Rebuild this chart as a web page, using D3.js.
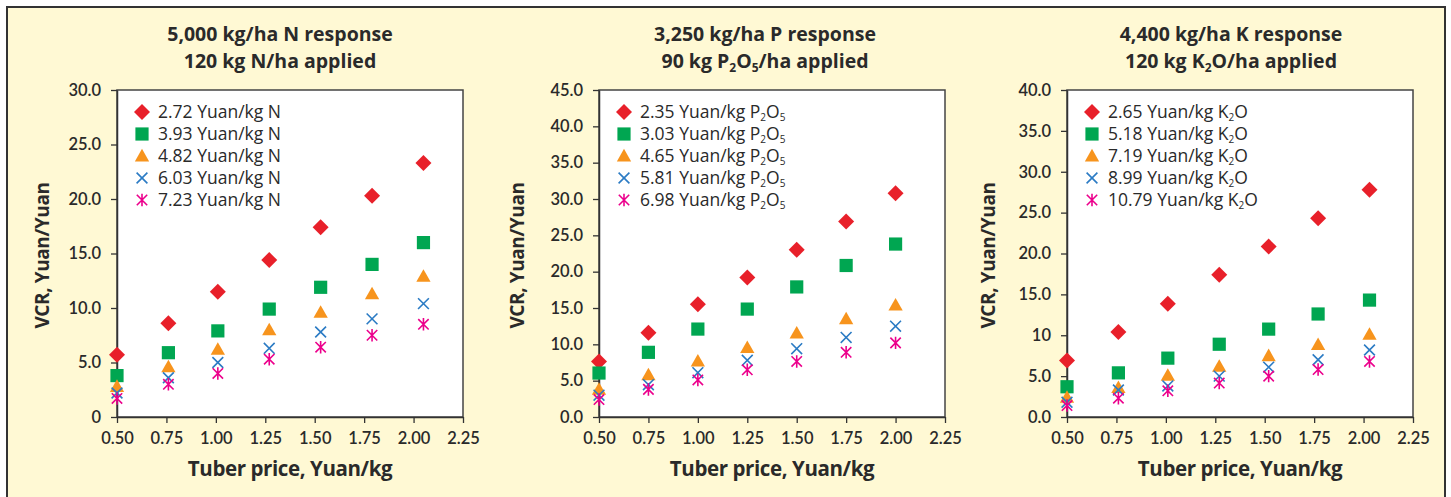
<!DOCTYPE html>
<html>
<head>
<meta charset="utf-8">
<script src="https://cdn.jsdelivr.net/npm/d3@7"></script>
<style>
  html, body { margin: 0; padding: 0; background: #fff; }
  svg { display: block; font-family: "Open Sans", Lato, sans-serif; }
  .tick text { fill: #2a2a2a; }
</style>
</head>
<body>
<div id="chart"></div>
<script>
// tuber prices, Yuan/kg (x positions read per panel)
const priceN = [0.50, 0.76, 1.01, 1.27, 1.53, 1.79, 2.05];
const priceP = [0.50, 0.75, 1.00, 1.25, 1.50, 1.75, 2.00];
const priceK = [0.50, 0.76, 1.01, 1.27, 1.52, 1.77, 2.03];

// fertilizer price series labels ("_2" = subscript 2)
const labelsN = ['2.72 Yuan/kg N', '3.93 Yuan/kg N', '4.82 Yuan/kg N', '6.03 Yuan/kg N', '7.23 Yuan/kg N'];
const labelsP = ['2.35 Yuan/kg P_2O_5', '3.03 Yuan/kg P_2O_5', '4.65 Yuan/kg P_2O_5', '5.81 Yuan/kg P_2O_5', '6.98 Yuan/kg P_2O_5'];
const labelsK = ['2.65 Yuan/kg K_2O', '5.18 Yuan/kg K_2O', '7.19 Yuan/kg K_2O', '8.99 Yuan/kg K_2O', '10.79 Yuan/kg K_2O'];

// VCR values, one row per series
const vcrN = [
  [5.7, 8.6, 11.5, 14.4, 17.4, 20.3, 23.3],
  [3.8, 5.9, 7.9, 9.9, 11.9, 14.0, 16.0],
  [2.8, 4.6, 6.2, 8.0, 9.6, 11.3, 12.9],
  [2.2, 3.6, 5.0, 6.3, 7.8, 9.0, 10.4],
  [1.7, 3.0, 4.0, 5.3, 6.4, 7.5, 8.5],
];
const vcrP = [
  [7.65, 11.6, 15.5, 19.2, 23.0, 26.9, 30.8],
  [6.05, 8.9, 12.1, 14.85, 17.9, 20.85, 23.8],
  [3.8, 5.8, 7.7, 9.55, 11.55, 13.5, 15.4],
  [3.0, 4.45, 6.1, 7.8, 9.4, 10.95, 12.5],
  [2.4, 3.8, 5.1, 6.5, 7.65, 8.9, 10.2],
];
const vcrK = [
  [6.9, 10.4, 13.85, 17.4, 20.85, 24.3, 27.8],
  [3.7, 5.4, 7.2, 8.9, 10.75, 12.6, 14.3],
  [2.4, 3.6, 5.1, 6.2, 7.5, 8.85, 10.1],
  [1.8, 3.3, 3.8, 5.0, 6.1, 7.0, 8.2],
  [1.4, 2.3, 3.2, 4.15, 5.0, 5.8, 6.8],
];

// axes
const xTicks = [0.50, 0.75, 1.00, 1.25, 1.50, 1.75, 2.00, 2.25];
const xTickLabels = ['0.50', '0.75', '1.00', '1.25', '1.50', '1.75', '2.00', '2.25'];
const yTicksN = [0, 5, 10, 15, 20, 25, 30];
const yLabelsN = ['0', '5.0', '10.0', '15.0', '20.0', '25.0', '30.0'];
const yTicksP = [0, 5, 10, 15, 20, 25, 30, 35, 40, 45];
const yLabelsP = ['0.0', '5.0', '10.0', '15.0', '20.0', '25.0', '30.0', '35.0', '40.0', '45.0'];
const yTicksK = [0, 5, 10, 15, 20, 25, 30, 35, 40];
const yLabelsK = ['0.0', '5.0', '10', '15.0', '20.0', '25.0', '30.0', '35.0', '40.0'];

const titleN = ['5,000 kg/ha N response', '120 kg N/ha applied'];
const titleP = ['3,250 kg/ha P response', '90 kg P_2O_5/ha applied'];
const titleK = ['4,400 kg/ha K response', '120 kg K_2O/ha applied'];
const xTitle = 'Tuber price, Yuan/kg';
const yTitle = 'VCR, Yuan/Yuan';

// styling / layout
const seriesColors = ['#e8202a', '#00a651', '#f7941d', '#2b7bc4', '#ec008c'];
const textColor = '#2a2a2a';
const plotTop = 90;
const plotBottom = 417;

const panels = [
  { price: priceN, vcr: vcrN, labels: labelsN, yTicks: yTicksN, yLabels: yLabelsN, title: titleN,
    left: 117, right: 463, titleX: 280, yTitleX: 49 },
  { price: priceP, vcr: vcrP, labels: labelsP, yTicks: yTicksP, yLabels: yLabelsP, title: titleP,
    left: 599, right: 945, titleX: 765, yTitleX: 524 },
  { price: priceK, vcr: vcrK, labels: labelsK, yTicks: yTicksK, yLabels: yLabelsK, title: titleK,
    left: 1067, right: 1413, titleX: 1231, yTitleX: 995 },
];

// marker shapes as d3 symbol types (size = half-extent in px)
const markers = [
  { fill: true, draw(c, s) { c.moveTo(0, -s); c.lineTo(s, 0); c.lineTo(0, s); c.lineTo(-s, 0); c.closePath(); } },
  { fill: true, draw(c, s) { c.rect(-s, -s, 2 * s, 2 * s); } },
  { fill: true, draw(c, s) { c.moveTo(0, -s * 1.05); c.lineTo(s * 1.05, s * 0.8); c.lineTo(-s * 1.05, s * 0.8); c.closePath(); } },
  { fill: false, draw(c, s) { c.moveTo(-s, -s); c.lineTo(s, s); c.moveTo(-s, s); c.lineTo(s, -s); } },
  { fill: false, draw(c, s) { c.moveTo(-s, -s); c.lineTo(s, s); c.moveTo(-s, s); c.lineTo(s, -s); c.moveTo(0, -s * 1.2); c.lineTo(0, s * 1.2); } },
];
const markerSize = [8, 6.6, 6.8, 5.4, 5.2];

const width = 1451;
const height = 497;

const svg = d3.select('#chart')
  .append('svg')
  .attr('width', width)
  .attr('height', height);

// cream frame
svg.append('rect')
  .attr('x', 7).attr('y', 7)
  .attr('width', 1438).attr('height', 520)
  .attr('fill', '#fff9d4')
  .attr('stroke', '#333')
  .attr('stroke-width', 2);

// write a string, turning "_n" into a subscript tspan
function richText(textSel, str, subSize, shift) {
  let lowered = false;
  str.split(/(_\d)/).filter((p) => p !== '').forEach((part) => {
    if (part[0] === '_') {
      textSel.append('tspan').attr('dy', lowered ? 0 : shift).attr('font-size', subSize).text(part[1]);
      lowered = true;
    } else {
      textSel.append('tspan').attr('dy', lowered ? -shift : 0).text(part);
      lowered = false;
    }
  });
}

panels.forEach((p) => {
  const x = d3.scaleLinear().domain([0.5, 2.25]).range([p.left, p.right]);
  const y = d3.scaleLinear().domain([0, d3.max(p.yTicks)]).range([plotBottom, plotTop]);

  const g = svg.append('g');

  // plot area
  g.append('rect')
    .attr('x', p.left).attr('y', plotTop)
    .attr('width', p.right - p.left).attr('height', plotBottom - plotTop)
    .attr('fill', '#fff')
    .attr('stroke', '#444')
    .attr('stroke-width', 1.5);

  // y axis
  const yAxis = g.append('g')
    .attr('transform', `translate(${p.left},0)`)
    .call(d3.axisLeft(y).tickValues(p.yTicks).tickFormat((d, i) => p.yLabels[i])
      .tickSize(6).tickSizeOuter(0).tickPadding(10));
  // x axis
  const xAxis = g.append('g')
    .attr('transform', `translate(0,${plotBottom})`)
    .call(d3.axisBottom(x).tickValues(xTicks).tickFormat((d, i) => xTickLabels[i])
      .tickSize(6).tickSizeOuter(0).tickPadding(9));

  [yAxis, xAxis].forEach((a) => {
    a.select('.domain').attr('stroke', '#333').attr('stroke-width', 1.5);
    a.selectAll('.tick line').attr('stroke', '#333').attr('stroke-width', 1.3);
    a.selectAll('.tick text')
      .attr('font-family', 'Lato, sans-serif')
      .attr('font-size', 16.5)
      .attr('font-weight', 600);
  });

  // titles
  p.title.forEach((line, i) => {
    const t = g.append('text')
      .attr('x', p.titleX)
      .attr('y', 41 + i * 27)
      .attr('text-anchor', 'middle')
      .attr('fill', textColor)
      .attr('font-size', 19.5)
      .attr('font-weight', 700);
    richText(t, line, 12, 4);
  });

  g.append('text')
    .attr('x', (p.left + p.right) / 2)
    .attr('y', 476)
    .attr('text-anchor', 'middle')
    .attr('fill', textColor)
    .attr('font-size', 20.5)
    .attr('font-weight', 700)
    .attr('letter-spacing', -0.4)
    .text(xTitle);

  g.append('text')
    .attr('transform', `translate(${p.yTitleX},${(plotTop + plotBottom) / 2 + 2}) rotate(-90)`)
    .attr('text-anchor', 'middle')
    .attr('fill', textColor)
    .attr('font-size', 19)
    .attr('font-weight', 700)
    .attr('letter-spacing', -0.4)
    .text(yTitle);

  // series points
  p.vcr.forEach((vals, si) => {
    const m = markers[si];
    const sym = d3.symbol().type(m).size(markerSize[si]);
    g.selectAll(null)
      .data(vals.map((v, i) => ({ px: p.price[i], v })))
      .enter()
      .append('path')
      .attr('transform', (d) => `translate(${x(d.px)},${y(d.v)})`)
      .attr('d', sym)
      .attr('fill', m.fill ? seriesColors[si] : 'none')
      .attr('stroke', m.fill ? 'none' : seriesColors[si])
      .attr('stroke-width', 1.6);
  });

  // legend
  const leg = g.append('g').attr('transform', `translate(${p.left + 25},${plotTop + 22})`);
  p.labels.forEach((lab, si) => {
    const m = markers[si];
    leg.append('path')
      .attr('transform', `translate(0,${si * 22})`)
      .attr('d', d3.symbol().type(m).size(markerSize[si])())
      .attr('fill', m.fill ? seriesColors[si] : 'none')
      .attr('stroke', m.fill ? 'none' : seriesColors[si])
      .attr('stroke-width', 1.6);
    const t = leg.append('text')
      .attr('x', 16)
      .attr('y', si * 22 + 6)
      .attr('fill', textColor)
      .attr('font-size', 17.5)
      .attr('font-weight', 500);
    richText(t, lab, 10, 2.5);
  });
});
</script>
</body>
</html>
